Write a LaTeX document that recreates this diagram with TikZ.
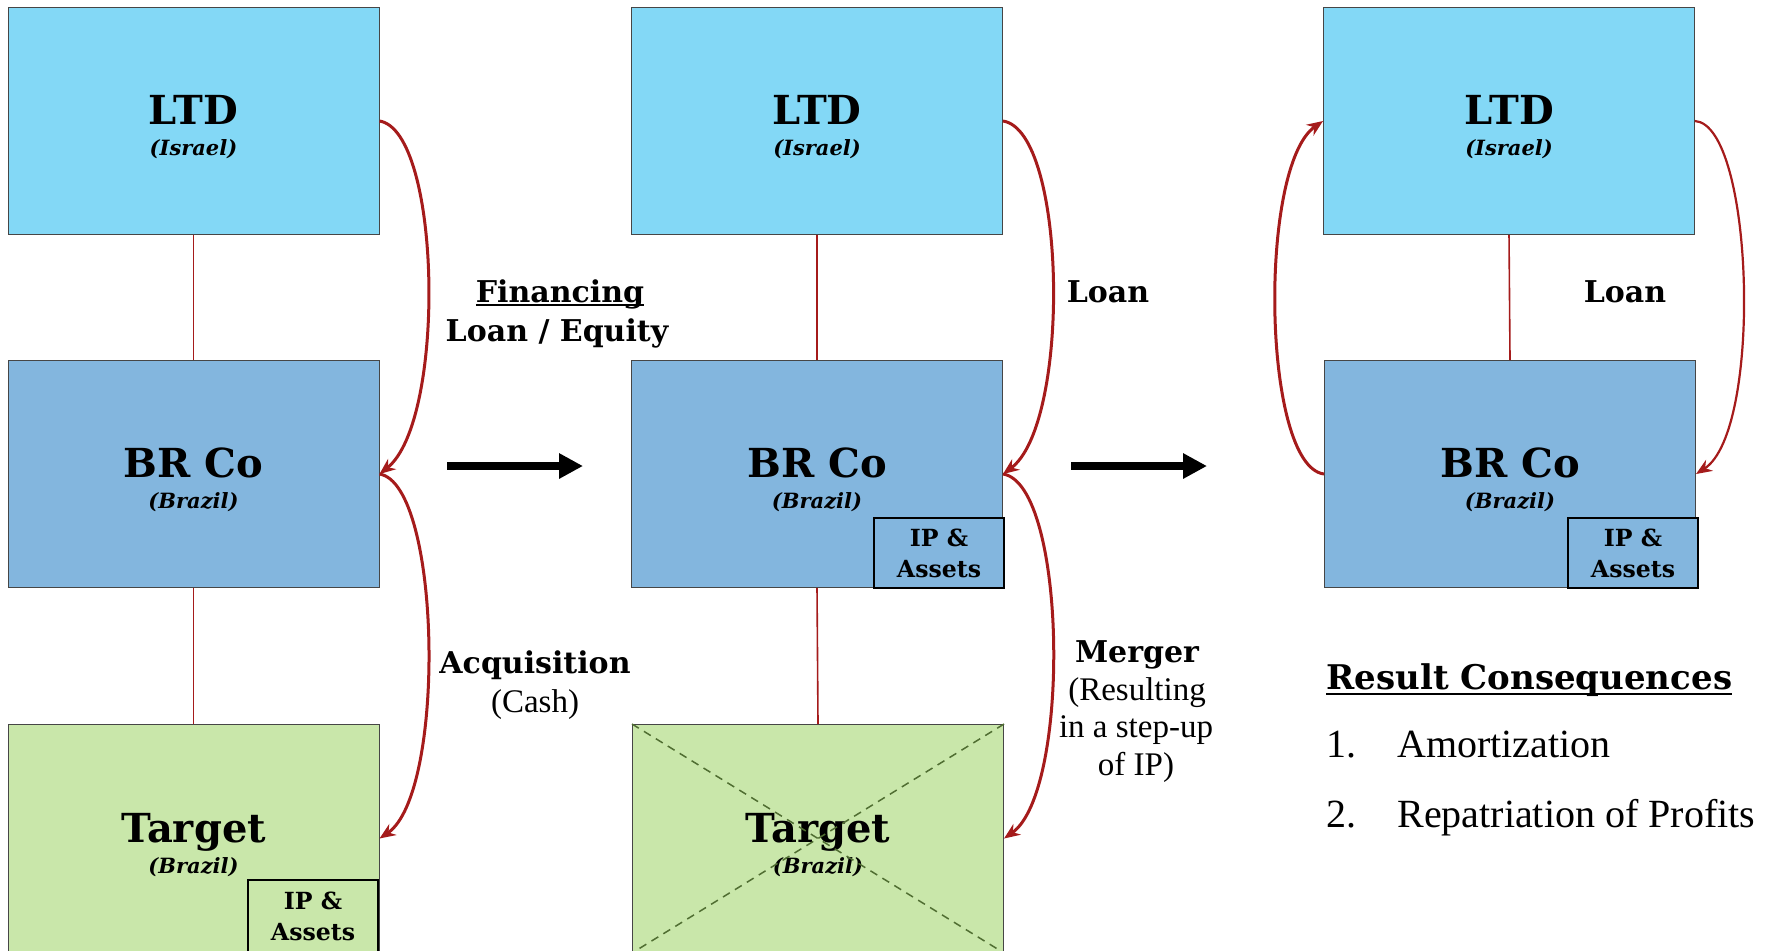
\documentclass[tikz,border=0pt]{standalone}
\usepackage{fontspec}
\setmainfont{Liberation Serif}
\newfontfamily\bfam{DejaVu Serif}
\usetikzlibrary{arrows.meta}
\definecolor{ltdblue}{RGB}{131,216,246}
\definecolor{brblue}{RGB}{131,182,222}
\definecolor{tgreen}{RGB}{201,231,170}
\definecolor{darkred}{RGB}{165,27,27}
\definecolor{boxline}{RGB}{70,70,70}
\definecolor{xgreen}{RGB}{80,110,50}
\newsavebox\ulbox
\newcommand\myul[3]{\sbox\ulbox{#1}\rlap{\rule[#2]{\wd\ulbox}{#3}}\usebox\ulbox}
\newcommand\mainlbl[2]{{\fontsize{20}{24}\selectfont\bfam\bfseries\rule{0pt}{21pt}#1}\\{\fontsize{10.5}{12}\selectfont\bfam\bfseries\itshape #2}}
\tikzset{
  entity/.style={draw=boxline, line width=0.5pt, anchor=north west, minimum width=185.5pt,
    inner sep=0pt, align=center, font=\fontsize{10}{15.5}\selectfont},
  ltdbox/.style={entity, fill=ltdblue, minimum height=113.5pt},
  brbox/.style={entity, fill=brblue, minimum height=113.5pt},
  tgbox/.style={entity, fill=tgreen, minimum height=114pt},
  ipbox/.style={draw=black, line width=1pt, fill=#1, anchor=north west, minimum width=65pt,
    minimum height=35pt, inner sep=0pt, align=center, font=\fontsize{11.8}{15.5}\selectfont\bfam\bfseries},
  redarr/.style={draw=darkred, line width=1.5pt, -{Stealth[length=8pt,width=6.5pt]}},
  vline/.style={draw=darkred, line width=0.8pt},
  bigarrow/.style={draw=black, line width=4pt, -{Triangle[length=12pt,width=12pt]}},
  lbl/.style={font=\fontsize{15}{18}\selectfont\bfam\bfseries, anchor=base, inner sep=0pt},
  reg/.style={font=\fontsize{16.5}{19}\selectfont, anchor=base, inner sep=0pt},
  listtxt/.style={font=\fontsize{20}{24}\selectfont, anchor=base west, inner sep=0pt},
}
\begin{document}
\begin{tikzpicture}[x=0.5pt, y=-0.5pt]
\useasboundingbox (0,0) rectangle (1775,950);
% column 1
\node[ltdbox] (L1) at (7.5,7) {\mainlbl{LTD}{(Israel)}};
\node[brbox] (B1) at (7.5,360) {\mainlbl{BR Co}{(Brazil)}};
\node[tgbox] (T1) at (7.5,724) {\mainlbl{Target}{(Brazil)}};
\node[ipbox=tgreen, minimum height=36pt] (I1) at (247,879) {IP \&\\Assets};
\draw[vline] (L1.south) -- (B1.north);
\draw[vline] (B1.south) -- (T1.north);
\draw[redarr] (L1.east) .. controls +(62,10) and +(67,-53) .. (B1.east);
\draw[redarr] (B1.east) .. controls +(62,10) and +(67,-45) .. (T1.east);
% column 2
\node[ltdbox] (L2) at (631,7) {\mainlbl{LTD}{(Israel)}};
\node[brbox] (B2) at (631,360) {\mainlbl{BR Co}{(Brazil)}};
\node[ipbox=brblue] (I2) at (873,517) {IP \&\\Assets};
\node[tgbox] (T2) at (632,724) {\mainlbl{Target}{(Brazil)}};
\draw[xgreen, line width=0.75pt, dash pattern=on 4pt off 3pt] (T2.north west) -- (T2.south east);
\draw[xgreen, line width=0.75pt, dash pattern=on 4pt off 3pt] (T2.north east) -- (T2.south west);
\draw[vline] (L2.south) -- (B2.north);
\draw[vline] (B2.south) -- (T2.north);
\draw[redarr] (L2.east) .. controls +(64,10) and +(68,-50) .. (B2.east);
\draw[redarr] (B2.east) .. controls +(64,10) and +(67,-47) .. (T2.east);
% column 3
\node[ltdbox] (L3) at (1323,7) {\mainlbl{LTD}{(Israel)}};
\node[brbox] (B3) at (1324,360) {\mainlbl{BR Co}{(Brazil)}};
\node[ipbox=brblue] (I3) at (1567,517) {IP \&\\Assets};
\draw[vline] (L3.south) -- (B3.north);
\draw[redarr] (B3.west) .. controls +(-62,-8) and +(-65,45) .. (L3.west);
\draw[redarr, line width=1.1pt] (L3.east) .. controls +(59,4) and +(67,-43) .. (B3.east);
% transition arrows
\coordinate (a1s) at (447,466);
\coordinate (a1e) at (583,466);
\coordinate (a2s) at (1071,466);
\coordinate (a2e) at (1207,466);
\draw[bigarrow] (a1s) -- (a1e);
\draw[bigarrow] (a2s) -- (a2e);
% labels
\node[lbl] (fin) at (560,302) {\myul{Financing}{-2pt}{0.8pt}};
\node[lbl] (le) at (557,341) {Loan / Equity};
\node[lbl] (acq) at (535,673) {Acquisition};
\node[reg] (cash) at (535,712) {(Cash)};
\node[lbl] (loan2) at (1108,302) {Loan};
\node[lbl] (loan3) at (1625,302) {Loan};
\node[lbl] (mer) at (1137,662) {Merger};
\node[reg] (m1) at (1137,700) {(Resulting};
\node[reg] (m2) at (1136,737) {in a step-up};
\node[reg] (m3) at (1136,775) {of IP)};
% result consequences
\node[anchor=base west, inner sep=0pt, font=\fontsize{17}{20}\selectfont\bfam\bfseries] (rc) at (1326,689) {\myul{Result Consequences}{-3pt}{1pt}};
\node[listtxt] (n1) at (1326,757) {1.};
\node[listtxt] (it1) at (1397,757) {Amortization};
\node[listtxt] (n2) at (1326,827) {2.};
\node[listtxt] (it2) at (1397,827) {Repatriation of Profits};
\end{tikzpicture}
\end{document}
